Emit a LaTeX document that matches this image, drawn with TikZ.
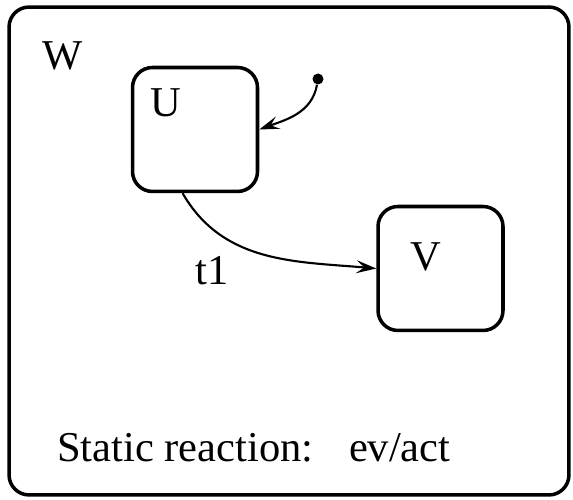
\documentclass[tikz,border=0pt]{standalone}
\usepackage{fontspec}
\setmainfont{Liberation Serif}
\usepackage{tikz}
\usetikzlibrary{arrows.meta, positioning}
\tikzset{
    statebox/.style={draw, rectangle, rounded corners=0.4cm, line width=2pt, inner sep=0pt},
    outerbox/.style={statebox, minimum width=11.2cm, minimum height=9.76cm},
    innerbox/.style={statebox, minimum width=2.5cm, minimum height=2.48cm},
    statename/.style={anchor=base west, inner sep=0pt, font=\fontsize{24.2}{29}\selectfont},
    initdot/.style={circle, fill, inner sep=0pt, minimum size=0.22cm},
    transarrow/.style={-{Stealth[length=4mm, width=2.6mm, inset=1.6mm]}, line width=1.2pt},
}
\begin{document}
\begin{tikzpicture}[x=0.02cm, y=0.02cm]
    \useasboundingbox (0,0) rectangle (573,499);
    \node[outerbox] (W) at (289,248) {};
    \node[innerbox] (U) at (195,369.5) {};
    \node[innerbox] (V) at (440.5,230.5) {};
    \node[statename] (Wlabel) at (42,429) {W};
    \node[statename] (Ulabel) at (150,382) {U};
    \node[statename] (Vlabel) at (410,228) {V};
    \node[initdot] (init) at (318,420) {};

    \draw[transarrow] (init) to[out=-100, in=20] (U.east);
    \draw[transarrow] (U.-101) to[out=-60, in=175] (V.west);
    \node[statename] (t1) at (195,214) {t1};
    \node[statename] (reaction) at (57,37) {Static reaction:\hspace{0.5em} ev/act};
\end{tikzpicture}
\end{document}
